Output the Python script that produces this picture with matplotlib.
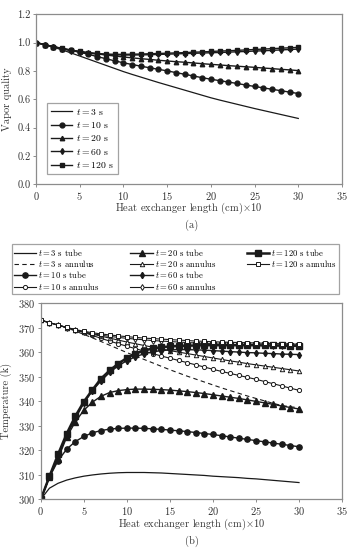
"""Vapor quality and temperature along the heat exchanger."""
import matplotlib
matplotlib.use("Agg")
import matplotlib.pyplot as plt
from matplotlib.lines import Line2D

plt.rcParams['font.family'] = ['cmr10', 'DejaVu Serif']
plt.rcParams['mathtext.fontset'] = 'cm'
plt.rcParams['axes.formatter.use_mathtext'] = True

x = list(range(31))

# (a) vapor quality
q_t3 = [1.000, 0.985, 0.967, 0.948, 0.927, 0.905, 0.883, 0.861, 0.839, 0.817, 0.795,
        0.775, 0.756, 0.737, 0.718, 0.700, 0.682, 0.664, 0.646, 0.628, 0.610,
        0.594, 0.579, 0.564, 0.549, 0.534, 0.520, 0.506, 0.492, 0.478, 0.464]
q_t10 = [1.000, 0.985, 0.970, 0.957, 0.945, 0.932, 0.917, 0.901, 0.886, 0.871, 0.857,
         0.845, 0.833, 0.822, 0.811, 0.800, 0.788, 0.776, 0.764, 0.752, 0.741,
         0.731, 0.721, 0.711, 0.700, 0.690, 0.680, 0.670, 0.660, 0.650, 0.640]
q_t20 = [1.000, 0.985, 0.970, 0.958, 0.947, 0.937, 0.928, 0.920, 0.912, 0.905, 0.898,
         0.892, 0.886, 0.881, 0.875, 0.870, 0.865, 0.861, 0.856, 0.851, 0.846,
         0.842, 0.837, 0.833, 0.829, 0.825, 0.820, 0.816, 0.811, 0.807, 0.802]
q_t60 = [1.000, 0.985, 0.970, 0.956, 0.943, 0.933, 0.925, 0.919, 0.915, 0.913, 0.912,
         0.912, 0.913, 0.914, 0.916, 0.918, 0.920, 0.922, 0.924, 0.926, 0.928,
         0.930, 0.932, 0.935, 0.937, 0.940, 0.942, 0.945, 0.948, 0.951, 0.954]
q_t120 = [1.000, 0.986, 0.972, 0.959, 0.947, 0.937, 0.929, 0.923, 0.919, 0.917, 0.917,
          0.918, 0.919, 0.921, 0.923, 0.925, 0.927, 0.929, 0.932, 0.934, 0.937,
          0.940, 0.942, 0.945, 0.948, 0.951, 0.954, 0.957, 0.960, 0.963, 0.966]

# (b) temperature, tube and annulus
t3_tube = [300.0, 304.5, 306.5, 307.8, 308.7, 309.4, 309.9, 310.3, 310.6, 310.8, 310.9,
           310.9, 310.9, 310.8, 310.7, 310.5, 310.3, 310.1, 309.9, 309.7, 309.4,
           309.2, 309.0, 308.8, 308.5, 308.3, 308.0, 307.7, 307.4, 307.1, 306.8]
t3_ann = [373.0, 372.0, 371.0, 369.9, 368.6, 367.2, 365.8, 364.3, 362.8, 361.3, 359.8,
          358.4, 357.0, 355.6, 354.2, 352.8, 351.5, 350.2, 349.0, 347.8, 346.6,
          345.4, 344.3, 343.2, 342.1, 341.1, 340.1, 339.1, 338.2, 337.7, 337.3]
t10_tube = [300.0, 309.0, 315.7, 320.4, 323.5, 325.6, 327.1, 328.0, 328.6, 328.9, 329.0,
            329.0, 328.9, 328.7, 328.5, 328.2, 327.9, 327.6, 327.2, 326.8, 326.4,
            325.9, 325.4, 324.9, 324.4, 323.9, 323.4, 322.9, 322.4, 321.9, 321.4]
t10_ann = [373.0, 372.0, 371.0, 370.0, 369.0, 368.0, 366.8, 365.6, 364.5, 363.4, 362.4,
           361.4, 360.4, 359.4, 358.4, 357.5, 356.6, 355.7, 354.8, 353.9, 353.0,
           352.1, 351.3, 350.5, 349.7, 348.9, 348.0, 347.1, 346.2, 345.3, 344.4]
t20_tube = [300.0, 309.2, 316.5, 325.3, 331.5, 336.3, 339.6, 342.0, 343.5, 344.3, 344.7,
            344.9, 344.9, 344.8, 344.7, 344.5, 344.2, 343.9, 343.5, 343.1, 342.6,
            342.1, 341.6, 341.1, 340.5, 339.9, 339.3, 338.7, 338.0, 337.4, 336.8]
t20_ann = [373.0, 372.0, 371.0, 370.0, 369.0, 368.1, 367.3, 366.5, 365.7, 364.9, 364.1,
           363.4, 362.7, 362.0, 361.3, 360.6, 360.0, 359.4, 358.8, 358.2, 357.6,
           357.0, 356.4, 355.9, 355.3, 354.8, 354.3, 353.8, 353.3, 352.8, 352.3]
t60_tube = [300.0, 309.3, 317.5, 326.0, 332.8, 339.2, 344.3, 348.3, 351.7, 354.4, 356.5,
            358.1, 359.3, 360.1, 360.6, 360.9, 361.0, 361.0, 360.9, 360.8, 360.6,
            360.4, 360.2, 360.0, 359.8, 359.7, 359.5, 359.4, 359.2, 359.1, 359.0]
t60_ann = [373.0, 372.0, 371.0, 370.0, 369.0, 368.2, 367.5, 366.9, 366.4, 366.0, 365.6,
           365.3, 365.0, 364.7, 364.5, 364.3, 364.1, 363.9, 363.7, 363.5, 363.4,
           363.2, 363.1, 363.0, 362.9, 362.8, 362.7, 362.6, 362.5, 362.4, 362.3]
t120_tube = [300.0, 309.3, 318.3, 326.7, 333.8, 339.8, 344.6, 349.2, 352.5, 355.3, 357.6,
             359.4, 360.6, 361.5, 362.0, 362.3, 362.5, 362.6, 362.7, 362.8, 362.8,
             362.8, 362.8, 362.8, 362.8, 362.8, 362.7, 362.7, 362.7, 362.6, 362.6]
t120_ann = [373.0, 372.0, 371.0, 370.1, 369.2, 368.5, 367.9, 367.4, 367.0, 366.6, 366.3,
            366.0, 365.7, 365.5, 365.3, 365.1, 364.9, 364.7, 364.5, 364.4, 364.2,
            364.1, 364.0, 363.9, 363.8, 363.7, 363.6, 363.5, 363.4, 363.3, 363.2]

x_ticks = [0, 5, 10, 15, 20, 25, 30, 35]
xlabel = r'Heat exchanger length (cm)$\times$10'

K = '#1a1a1a'
SPINE = '#8c8c8c'
TXT = '#333333'


def style_axes(ax):
    """Marco gris y ticks pequeños."""
    for s in ax.spines.values():
        s.set_color(SPINE)
        s.set_linewidth(0.9)
    ax.tick_params(labelsize=7.5, length=2.5, width=0.7, color=SPINE,
                   labelcolor=TXT, pad=1.5)
    ax.set_xlim(0, 35)
    ax.set_xticks(x_ticks)


fig = plt.figure(figsize=(3.49, 5.48), dpi=100)

# ---- (a) ----
ax1 = fig.add_axes([0.103, 0.664, 0.877, 0.310])
ax1.plot(x, q_t3, color=K, lw=0.9, label=r'$t=3$ s')
ax1.plot(x, q_t10, color=K, lw=1.0, marker='o', ms=3.5, label=r'$t=10$ s')
ax1.plot(x, q_t20, color=K, lw=1.0, marker='^', ms=3.2, label=r'$t=20$ s')
ax1.plot(x, q_t60, color=K, lw=1.0, marker='d', ms=3.0, label=r'$t=60$ s')
ax1.plot(x, q_t120, color=K, lw=1.0, marker='s', ms=3.2, label=r'$t=120$ s')
style_axes(ax1)
ax1.set_ylim(0, 1.2)
ax1.set_yticks([0.0, 0.2, 0.4, 0.6, 0.8, 1.0, 1.2])
ax1.set_yticklabels(['0.0', '0.2', '0.4', '0.6', '0.8', '1.0', '1.2'])
ax1.set_ylabel('Vapor quality', fontsize=7.5, color=TXT)
ax1.yaxis.set_label_coords(-0.078, 0.5)
ax1.set_xlabel(xlabel, fontsize=7.5, color=TXT)
ax1.xaxis.set_label_coords(0.5, -0.10)
leg1 = ax1.legend(loc='lower left', bbox_to_anchor=(0.02, 0.03), fontsize=7,
                  frameon=True, fancybox=False, handlelength=2.2,
                  handletextpad=0.4, labelspacing=0.35, borderpad=0.4)
leg1.get_frame().set_edgecolor(SPINE)
leg1.get_frame().set_linewidth(0.9)
fig.text(0.55, 1 - 225 / 548, '(a)', ha='center', va='center', fontsize=7.5,
         color=TXT)

# ---- (b) ----
ax2 = fig.add_axes([0.117, 0.089, 0.863, 0.358])
h = []
h += ax2.plot(x, t3_tube, color=K, lw=0.9, label=r'$t=3$ s tube')
h += ax2.plot(x, t3_ann, color=K, lw=0.8, ls=(0, (4, 3)), label=r'$t=3$ s annulus')
h += ax2.plot(x, t10_tube, color=K, lw=1.0, marker='o', ms=3.8, label=r'$t=10$ s tube')
h += ax2.plot(x, t10_ann, color=K, lw=0.8, marker='o', ms=3.0, mfc='white',
              mew=0.7, label=r'$t=10$ s annulus')
h += ax2.plot(x, t20_tube, color=K, lw=1.0, marker='^', ms=3.8, label=r'$t=20$ s tube')
h += ax2.plot(x, t20_ann, color=K, lw=0.8, marker='^', ms=3.2, mfc='white',
              mew=0.7, label=r'$t=20$ s annulus')
h += ax2.plot(x, t60_tube, color=K, lw=1.0, marker='d', ms=3.2, label=r'$t=60$ s tube')
h += ax2.plot(x, t60_ann, color=K, lw=0.8, marker='d', ms=3.0, mfc='white',
              mew=0.7, label=r'$t=60$ s annulus')
h += ax2.plot(x, t120_tube, color=K, lw=1.8, marker='s', ms=3.8, label=r'$t=120$ s tube')
h += ax2.plot(x, t120_ann, color=K, lw=0.8, marker='s', ms=3.2, mfc='white',
              mew=0.7, label=r'$t=120$ s annulus')
style_axes(ax2)
ax2.set_ylim(300, 380)
ax2.set_yticks([300, 310, 320, 330, 340, 350, 360, 370, 380])
ax2.set_ylabel('Temperature (k)', fontsize=7.5, color=TXT)
ax2.yaxis.set_label_coords(-0.095, 0.5)
ax2.set_xlabel(xlabel, fontsize=7.5, color=TXT)
ax2.xaxis.set_label_coords(0.5, -0.088)

blank = Line2D([], [], color='none')
handles = h + [blank, blank]
labels = [l.get_label() for l in h] + ['', '']
leg2 = fig.legend(handles, labels, ncol=3, loc='lower left',
                  bbox_to_anchor=(0.034, 0.4635, 0.937, 0.0785), mode='expand',
                  fontsize=6.2, frameon=True, fancybox=False, handlelength=2.6,
                  handletextpad=0.2, labelspacing=0.05, borderpad=0.25,
                  columnspacing=0.6, borderaxespad=0.0)
leg2.get_frame().set_edgecolor(SPINE)
leg2.get_frame().set_linewidth(0.9)
fig.text(0.55, 0.001, '(b)', ha='center', va='bottom', fontsize=7.5,
         color=TXT)

fig.savefig('out.png', dpi=100)
